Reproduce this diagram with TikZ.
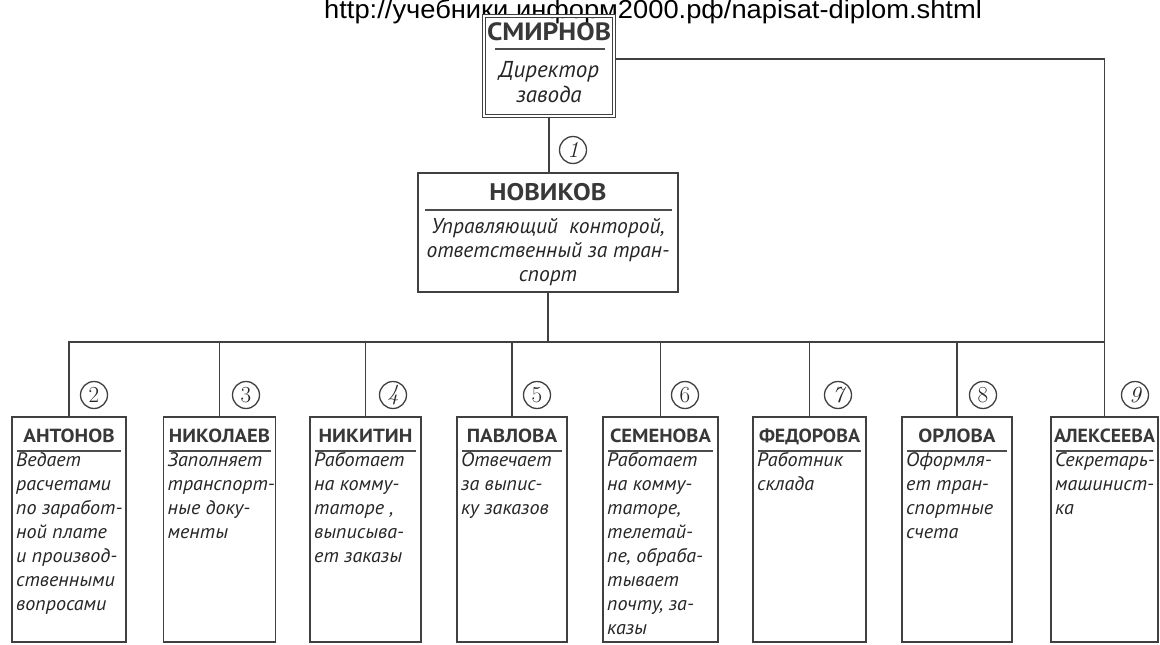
\documentclass[tikz,border=0pt]{standalone}
\usepackage{fontspec}
\usepackage{graphicx}
\newfontfamily\urlfont[FakeStretch=1.05]{Liberation Sans}
\newfontfamily\ptsans{PT Sans}
\newfontfamily\descfont[FakeStretch=1.03]{PT Sans}
\newfontfamily\namefont[FakeStretch=1.1]{PT Sans}
\newcommand\fitname[1]{\sbox0{#1}\ifdim\wd0>101pt\resizebox{101pt}{\height}{#1}\else\usebox0\fi}
\begin{document}
\begin{tikzpicture}[x=1pt,y=-1pt]
\tikzset{
  ln/.style={draw=black!75, line width=1.5pt},
  empbox/.style={draw=black!75, line width=1.5pt, rectangle, minimum height=225pt, inner sep=0pt},
  sep/.style={draw=black!70, line width=1.2pt},
  namestyle/.style={font=\namefont\bfseries\fontsize{19}{19}\selectfont, text=black!78, inner sep=0pt, anchor=base},
  descstyle/.style={font=\descfont\itshape\fontsize{19.5}{24}\selectfont, text=black!85, align=left, inner sep=0pt, anchor=north west},
  num/.style={circle, draw=black!75, line width=1.3pt, minimum size=27pt, inner sep=0pt, font=\fontsize{23}{23}\selectfont, text=black!85},
}
\useasboundingbox (0,0) rectangle (1160,645);
\fill[white] (0,0) rectangle (1160,645);

% URL
\node[font=\urlfont\fontsize{26}{26}\selectfont, anchor=base, inner sep=0pt] (url) at (653,18.5) {http://учебники.информ2000.рф/napisat-diplom.shtml};

% Director
\node[draw=black!75, line width=1.3pt, double, double distance=2.2pt, rectangle, minimum width=130pt, minimum height=100pt, inner sep=0pt] (smirnov) at (549,66) {};
\node[font=\namefont\bfseries\fontsize{25}{25}\selectfont, text=black!78, inner sep=0pt] (smirnovn) at (549,32) {СМИРНОВ};
\draw[sep] (495,49) -- (605,49);
\node[font=\ptsans\itshape\fontsize{23}{25}\selectfont, text=black!85, align=center, inner sep=0pt] (smirnovd) at (549,82) {Директор\\завода};

% Novikov
\node[empbox, minimum width=260pt, minimum height=119pt] (novikov) at (548,232.5) {};
\node[font=\namefont\bfseries\fontsize{24}{24}\selectfont, text=black!78, inner sep=0pt] (novikovn) at (548,192) {НОВИКОВ};
\draw[sep] (425,210) -- (672,210);
\node[font=\ptsans\itshape\fontsize{21.5}{24}\selectfont, text=black!85, align=center, inner sep=0pt] (novikovd) at (548,252) {Управляющий\ \ конторой,\\ответственный за тран-\\спорт};

\newcommand\empbox[5]{%
  \node[empbox, minimum width=#3pt] (#1) at (#2,529.5) {};
  \node[namestyle] (#1n) at (#2,442) {\fitname{#4}};
  \draw[sep] ({#2-#3/2+5},451) -- ({#2+#3/2-5},451);
  \node[descstyle] (#1d) at ({#2-#3/2+4},451) {\rule{0pt}{15pt}#5};
}
\empbox{ant}{69}{114}{АНТОНОВ}{Ведает\\расчетами\\по заработ-\\ной плате\\и производ-\\ственными\\вопросами}
\empbox{nik}{219.5}{112}{НИКОЛАЕВ}{Заполняет\\транспорт-\\ные доку-\\менты}
\empbox{nkt}{365.5}{111}{НИКИТИН}{Работает\\на комму-\\таторе ,\\выписыва-\\ет заказы}
\empbox{pav}{512}{110}{ПАВЛОВА}{Отвечает\\за выпис-\\ку заказов}
\empbox{sem}{660.5}{115}{СЕМЕНОВА}{Работает\\на комму-\\таторе,\\телетай-\\пе, обраба-\\тывает\\почту, за-\\казы}
\empbox{fed}{809.5}{113}{ФЕДОРОВА}{Работник\\склада}
\empbox{orl}{957}{110}{ОРЛОВА}{Оформля-\\ет тран-\\спортные\\счета}
\empbox{ale}{1104.5}{107}{АЛЕКСЕЕВА}{Секретарь-\\машинист-\\ка}

% connectors
\coordinate (bus) at (548,342);
\coordinate (tr) at (1104.5,59);
\draw[ln] (smirnov.south) -- (smirnov.south |- novikov.north);
\draw[ln] (novikov.south) -- (bus);
\draw[ln] (ant.north) -- (ant.north |- bus) -- (ale.north |- bus);
\foreach \b in {nik,nkt,pav,sem,fed,orl}{\draw[ln] (\b.north) -- (\b.north |- bus);}
\draw[ln] (smirnov.east |- tr) -- (tr) -- (ale.north);

% numbers
\node[num] (c1) at (573,150) {\itshape 1};
\node[num] (c2) at (94,395) {2};
\node[num] (c3) at (246,395) {3};
\node[num] (c4) at (393,395) {\itshape 4};
\node[num] (c5) at (537,395) {5};
\node[num] (c6) at (685,395) {6};
\node[num] (c7) at (838,395) {\itshape 7};
\node[num] (c8) at (983,395) {8};
\node[num] (c9) at (1135,395) {\itshape 9};
\end{tikzpicture}
\end{document}
